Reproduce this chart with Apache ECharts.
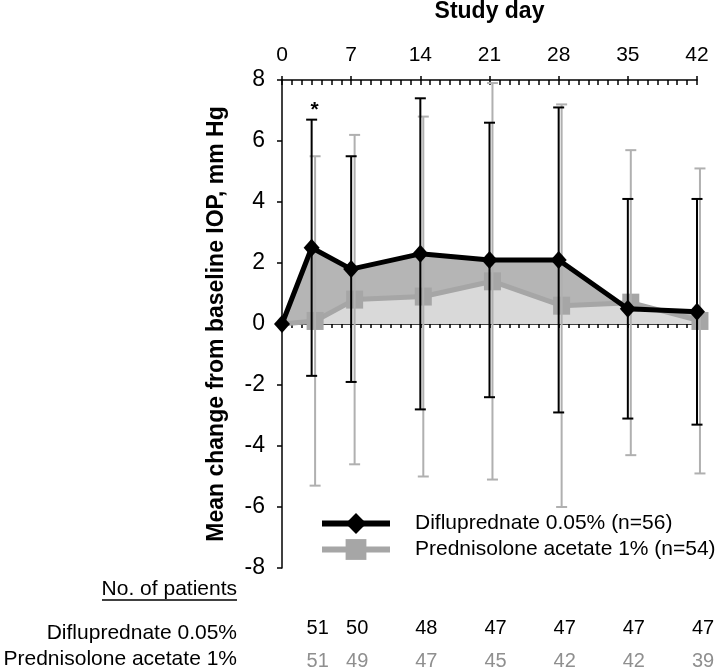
<!DOCTYPE html>
<html><head><meta charset="utf-8">
<script src="https://cdn.jsdelivr.net/npm/echarts@6/dist/echarts.min.js"></script>
<style>html,body{margin:0;padding:0;background:#fff}#c{width:719px;height:670px}</style>
</head><body><div id="c"></div>
<script>
// ---- data ----
const difluDays = [0, 3, 7, 14, 21, 28, 35, 42];
const difluMean = [0, 2.5, 1.8, 2.3, 2.1, 2.1, 0.5, 0.4];
const difluSD   = [null, 4.2, 3.7, 5.1, 4.5, 5.0, 3.6, 3.7];
const predDays  = [0, 3.35, 7.35, 14.3, 21.3, 28.3, 35.3, 42.3];
const predMean  = [0, 0.1, 0.8, 0.9, 1.4, 0.6, 0.7, 0.1];
const predSD    = [null, 5.4, 5.4, 5.9, 6.5, 6.6, 5.0, 5.0];
const significance = ['', '*', '', '', '', '', '', ''];
const tableDays = [3, 7, 14, 21, 28, 35, 42];
const difluN = [51, 50, 48, 47, 47, 47, 47];
const predN  = [51, 49, 47, 45, 42, 42, 39];
const xMin = 0, xMax = 42, xStep = 7;
const yMin = -8, yMax = 8, yStep = 2;
const difluName = 'Difluprednate 0.05% (n=56)';
const predName = 'Prednisolone acetate 1% (n=54)';
const rowLabels = ['No. of patients', 'Difluprednate 0.05%', 'Prednisolone acetate 1%'];

const BLACK = '#000000', GREY = '#a6a6a6', GREYBAR = '#b0b0b0';
const FA = 'Liberation Sans';

const pairs = (xs, ys) => xs.map((x, i) => [x, ys[i]]);
const bars = (xs, m, sd) => xs.map((x, i) => sd[i] == null ? null : [x, +(m[i] - sd[i]).toFixed(2), +(m[i] + sd[i]).toFixed(2)]).filter(Boolean);

function errorBars(color, capHalf, withSig) {
  return function (params, api) {
    const x = api.value(0), lo = api.value(1), hi = api.value(2);
    const a = api.coord([x, lo]), b = api.coord([x, hi]);
    const st = { stroke: color, lineWidth: 2 };
    const ch = [
      { type: 'line', shape: { x1: a[0], y1: a[1], x2: b[0], y2: b[1] }, style: st },
      { type: 'line', shape: { x1: a[0] - capHalf, y1: a[1], x2: a[0] + capHalf, y2: a[1] }, style: st },
      { type: 'line', shape: { x1: b[0] - capHalf, y1: b[1], x2: b[0] + capHalf, y2: b[1] }, style: st }
    ];
    if (withSig) {
      const s = significance[params.dataIndex + 1];
      if (s) ch.push({ type: 'text', x: b[0] + 3, y: b[1] - 9, style: { text: s, fontFamily: FA, fontWeight: 'bold', fontSize: 21, fill: BLACK, align: 'center', verticalAlign: 'middle' } });
    }
    return { type: 'group', children: ch };
  };
}

const predPoints = pairs(predDays, predMean).map((p, i) => i === 0 ? { value: p, symbol: 'none' } : p);

const chart = echarts.init(document.getElementById('c'), null, { renderer: 'canvas' });
chart.setOption({
  animation: false,
  backgroundColor: '#ffffff',
  grid: { left: 282, right: 22, top: 80, bottom: 102, containLabel: false, outerBoundsMode: 'none' },
  legend: {
    data: [difluName, predName],
    orient: 'vertical', left: 319, top: 513, padding: 0,
    itemWidth: 68, itemHeight: 26, itemGap: 5,
    lineStyle: { width: 6 },
    textStyle: { fontFamily: FA, fontSize: 21, color: '#000', padding: [0, 0, 0, 20] }
  },
  xAxis: [
    {
      type: 'value', position: 'top', min: xMin, max: xMax, interval: xStep,
      name: 'Study day', nameLocation: 'middle', nameGap: 57,
      nameTextStyle: { fontFamily: FA, fontWeight: 'bold', fontSize: 23, color: '#000' },
      axisLine: { onZero: false, lineStyle: { color: '#000', width: 1.5 } },
      axisTick: { inside: true, length: 5, lineStyle: { color: '#000', width: 1.5 } },
      minorTick: { show: true, splitNumber: 7, length: 5, lineStyle: { color: '#000', width: 1.5 } },
      axisLabel: { margin: 14, fontFamily: FA, fontSize: 21, color: '#000' },
      splitLine: { show: false }
    },
    {
      type: 'value', position: 'bottom', min: xMin, max: xMax, interval: 1,
      axisLine: { onZero: true, lineStyle: { color: '#000', width: 1.5 } },
      axisTick: { inside: false, length: 4, lineStyle: { color: '#000', width: 1.5 } },
      axisLabel: { show: false }, splitLine: { show: false }
    },
    {
      type: 'value', position: 'top', min: xMin, max: xMax, interval: xStep,
      axisLine: { show: false, onZero: false },
      axisTick: { inside: false, length: 4, lineStyle: { color: '#000', width: 1.5 } },
      axisLabel: { show: false }, splitLine: { show: false }
    }
  ],
  yAxis: {
    type: 'value', min: yMin, max: yMax, interval: yStep,
    name: 'Mean change from baseline IOP, mm Hg', nameLocation: 'middle', nameGap: 54,
    nameTextStyle: { fontFamily: FA, fontWeight: 'bold', fontSize: 23, color: '#000' },
    axisLine: { show: true, onZero: false, lineStyle: { color: '#000', width: 1.5 } },
    axisTick: { show: true, inside: false, length: 5, lineStyle: { color: '#000', width: 1.5 } },
    axisLabel: { margin: 17, fontFamily: FA, fontSize: 23, color: '#000' },
    splitLine: { show: false }
  },
  series: [
    {
      name: 'areaDark', type: 'line', z: 1, silent: true, symbol: 'none',
      data: pairs(difluDays, difluMean),
      lineStyle: { width: 0, opacity: 0 }, areaStyle: { color: '#b5b5b5', opacity: 1 }
    },
    {
      name: 'areaLight', type: 'line', z: 2, silent: true, symbol: 'none', clip: false,
      data: pairs(predDays, predMean),
      lineStyle: { width: 0, opacity: 0 }, areaStyle: { color: '#d9d9d9', opacity: 1 }
    },
    {
      name: predName, type: 'line', z: 3, clip: false,
      data: predPoints,
      symbol: 'rect', symbolSize: [17, 18],
      lineStyle: { color: GREY, width: 5 }, itemStyle: { color: GREY }
    },
    {
      name: 'predBars', type: 'custom', z: 4, silent: true,
      data: bars(predDays, predMean, predSD), encode: { x: 0, y: [1, 2] },
      renderItem: errorBars(GREYBAR, 5.5, false)
    },
    {
      name: 'difluBars', type: 'custom', z: 5, silent: true,
      data: bars(difluDays, difluMean, difluSD), encode: { x: 0, y: [1, 2] },
      renderItem: errorBars(BLACK, 5.5, true)
    },
    {
      name: difluName, type: 'line', z: 6, clip: false,
      data: pairs(difluDays, difluMean),
      symbol: 'diamond', symbolSize: [16, 18],
      lineStyle: { color: BLACK, width: 5 }, itemStyle: { color: BLACK }
    },
    {
      name: 'table', type: 'custom', z: 7, silent: true, clip: false,
      data: tableDays.map((d, i) => [d, yMin, difluN[i], predN[i]]), encode: { x: 0, y: 1 },
      renderItem: function (params, api) {
        const p = api.coord([api.value(0), yMin]);
        const i = params.dataIndex;
        return { type: 'group', children: [
          { type: 'text', x: p[0] + 6, y: p[1] + 60, style: { text: String(difluN[i]), fontFamily: FA, fontSize: 20, fill: '#000', align: 'center', verticalAlign: 'middle' } },
          { type: 'text', x: p[0] + 6, y: p[1] + 93, style: { text: String(predN[i]), fontFamily: FA, fontSize: 20, fill: '#8f8f8f', align: 'center', verticalAlign: 'middle' } }
        ] };
      }
    }
  ],
  graphic: [
    { type: 'text', x: 237, y: 589, style: { text: rowLabels[0], fontFamily: FA, fontSize: 21, fill: '#000', align: 'right', verticalAlign: 'middle' } },
    { type: 'line', shape: { x1: 102, y1: 600, x2: 237, y2: 600 }, style: { stroke: '#000', lineWidth: 1.5 } },
    { type: 'text', x: 237, y: 633, style: { text: rowLabels[1], fontFamily: FA, fontSize: 21, fill: '#000', align: 'right', verticalAlign: 'middle' } },
    { type: 'text', x: 237, y: 659, style: { text: rowLabels[2], fontFamily: FA, fontSize: 21, fill: '#000', align: 'right', verticalAlign: 'middle' } }
  ]
});
</script></body></html>
